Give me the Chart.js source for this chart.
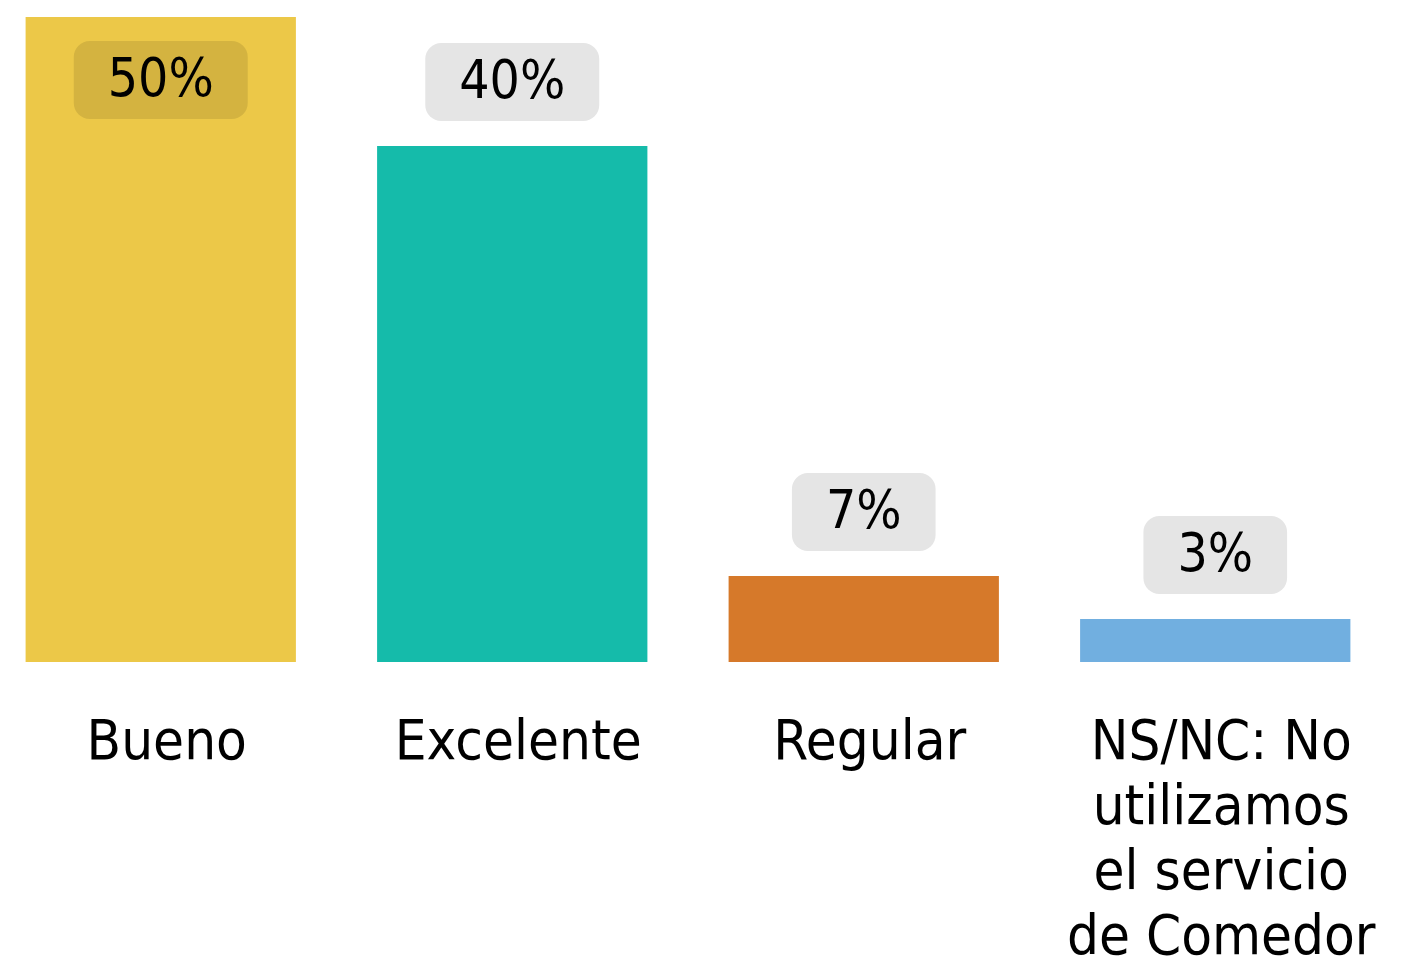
<!DOCTYPE html>
<html>
<head>
<meta charset="utf-8">
<script src="https://cdn.jsdelivr.net/npm/chart.js@4.4.1/dist/chart.umd.min.js"></script>
<style>
  html, body { margin: 0; padding: 0; background: #fff; overflow: hidden; width: 1423px; height: 967px; }
  #wrap { position: absolute; left: -15px; top: 0; width: 1406px; height: 967px; }
</style>
</head>
<body>
<div id="wrap"><canvas id="c"></canvas></div>
<script>
const categories = ["Bueno", "Excelente", "Regular", ["NS/NC: No", "utilizamos", "el servicio", "de Comedor"]];
const values = [50, 40, 6.67, 3.33];
const valueLabels = ["50%", "40%", "7%", "3%"];
const barColors = ["#ECC848", "#15BBAA", "#D6792A", "#71AFE0"];

const FONT = "'DejaVu Sans Condensed', 'DejaVu Sans', sans-serif";
const AREA_BOTTOM = 662;

const labelPlugin = {
  id: 'boxLabels',
  afterDatasetsDraw(chart) {
    const ctx = chart.ctx;
    const meta = chart.getDatasetMeta(0);
    ctx.save();
    ctx.font = "53px " + FONT;
    ctx.textAlign = 'center';
    ctx.textBaseline = 'middle';
    const boxH = 78, gap = 25, padX = 34, r = 16;
    meta.data.forEach((bar, i) => {
      const txt = valueLabels[i];
      const w = ctx.measureText(txt).width + padX * 2;
      let top = bar.y - gap - boxH;
      let fill = '#E5E5E5';
      if (top < 0) { top = bar.y + 24; fill = 'rgba(0,0,0,0.1)'; }
      ctx.fillStyle = fill;
      ctx.beginPath();
      ctx.roundRect(bar.x - w / 2, top, w, boxH, r);
      ctx.fill();
      ctx.fillStyle = '#000';
      ctx.fillText(txt, bar.x, top + boxH / 2 + 2);
    });
    ctx.restore();
  }
};

new Chart(document.getElementById('c'), {
  type: 'bar',
  data: {
    labels: categories,
    datasets: [{
      data: values,
      backgroundColor: barColors,
      borderWidth: 0,
      categoryPercentage: 1.0,
      barPercentage: 0.769
    }]
  },
  options: {
    responsive: true,
    maintainAspectRatio: false,
    animation: false,
    events: [],
    layout: { padding: { top: 17, left: 0, right: 0, bottom: 0 } },
    plugins: { legend: { display: false }, tooltip: { enabled: false } },
    scales: {
      y: { display: false, min: 0, max: 50 },
      x: {
        grid: { display: false, drawTicks: true, tickLength: 50 },
        border: { display: false },
        ticks: {
          color: '#000',
          font: { family: FONT, size: 56, lineHeight: 65 / 56 },
          padding: 0,
          labelOffset: 6,
          maxRotation: 0,
          autoSkip: false
        },
        afterFit(scale) { scale.height = scale.chart.height - AREA_BOTTOM; }
      }
    }
  },
  plugins: [labelPlugin]
});
</script>
</body>
</html>
